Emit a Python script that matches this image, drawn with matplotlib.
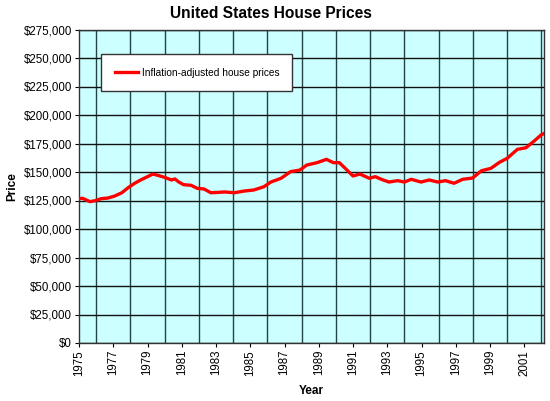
import matplotlib
matplotlib.use("Agg")
import matplotlib.pyplot as plt
from matplotlib.ticker import FuncFormatter, MultipleLocator

plt.rcParams["font.family"] = ["Liberation Sans", "DejaVu Sans"]

# Inflation-adjusted US house prices (decimal year, $)
years = [1975.0, 1975.2, 1975.64, 1975.93, 1976.3, 1976.7, 1977.1, 1977.5,
         1977.9, 1978.25, 1978.6, 1979.0, 1979.3, 1979.6, 1980.0, 1980.4,
         1980.6, 1980.8, 1981.1, 1981.55, 1981.9, 1982.3, 1982.7, 1983.1,
         1983.5, 1984.07, 1984.65, 1985.2, 1985.8, 1986.2, 1986.8, 1987.35,
         1987.9, 1988.3, 1988.9, 1989.45, 1989.85, 1990.2, 1990.6, 1991.0,
         1991.4, 1991.95, 1992.3, 1992.65, 1993.1, 1993.6, 1994.0, 1994.4,
         1994.97, 1995.45, 1995.95, 1996.4, 1996.9, 1997.4, 1997.98, 1998.5,
         1999.05, 1999.55, 2000.0, 2000.6, 2001.1, 2001.6, 2001.98, 2002.1]
prices = [126500, 127000, 124000, 124800, 126600, 127200, 129000, 131800,
          136600, 140100, 143000, 145900, 148200, 147100, 145300, 143000,
          143900, 141500, 138900, 138300, 135700, 135100, 131800, 132100,
          132500, 131800, 133300, 134200, 137100, 141200, 144500, 150300,
          151700, 156100, 158200, 161100, 158200, 158200, 152400, 146500,
          148200, 144500, 145900, 143600, 141200, 142400, 141200, 143600,
          141200, 143000, 141200, 142400, 140100, 143600, 144700, 151100,
          153200, 158500, 162000, 169900, 171300, 177500, 182500, 183400]

fig = plt.figure(figsize=(5.5, 4.01), dpi=100)
ax = fig.add_axes([79 / 550, 58 / 401, 465 / 550, 313.5 / 401])
ax.set_facecolor("#CCFFFF")

ax.plot(years, prices, color="#FF0000", linewidth=2.4,
        label="Inflation-adjusted house prices", zorder=3)

ax.set_xlim(1975, 2002.15)
ax.set_ylim(0, 275000)

# grid every year / every $25k, labels every other year
ax.yaxis.set_major_locator(MultipleLocator(25000))
ax.yaxis.set_major_formatter(FuncFormatter(lambda v, _: f"${v:,.0f}"))
ax.set_xticks(range(1975, 2002, 2))
ax.set_xticks(range(1975, 2003), minor=True)
ax.tick_params(axis="x", which="minor", length=0)
ax.tick_params(axis="both", which="major", direction="out", length=3,
               width=0.8, labelsize=8.3, colors="black", pad=2)
ax.tick_params(axis="x", labelrotation=90)
ax.grid(True, which="major", axis="y", color="#111111", linewidth=1.0, zorder=1)
ax.grid(True, which="minor", axis="x", color="#224444", linewidth=1.0, zorder=1)
for s in ax.spines.values():
    s.set_color("#333333")
    s.set_linewidth(1.0)

ax.set_title("United States House Prices", fontsize=11.2, fontweight="bold",
             x=(271 - 79) / 465, pad=8)
ax.set_xlabel("Year", fontsize=8.5, fontweight="bold", labelpad=7)
ax.set_ylabel("Price", fontsize=8.5, fontweight="bold", labelpad=4)

leg = ax.legend(loc="upper left",
                bbox_to_anchor=(22 / 465, 0.922, 191 / 465, 0.0001),
                mode="expand", fontsize=7.3, frameon=True, fancybox=False,
                borderpad=1.35, handlelength=2.3, handletextpad=0.35,
                borderaxespad=0)
leg.get_frame().set_edgecolor("#333333")
leg.get_frame().set_linewidth(1.0)
leg.get_frame().set_facecolor("white")
leg.get_frame().set_alpha(1)

fig.savefig("out.png", dpi=100)
